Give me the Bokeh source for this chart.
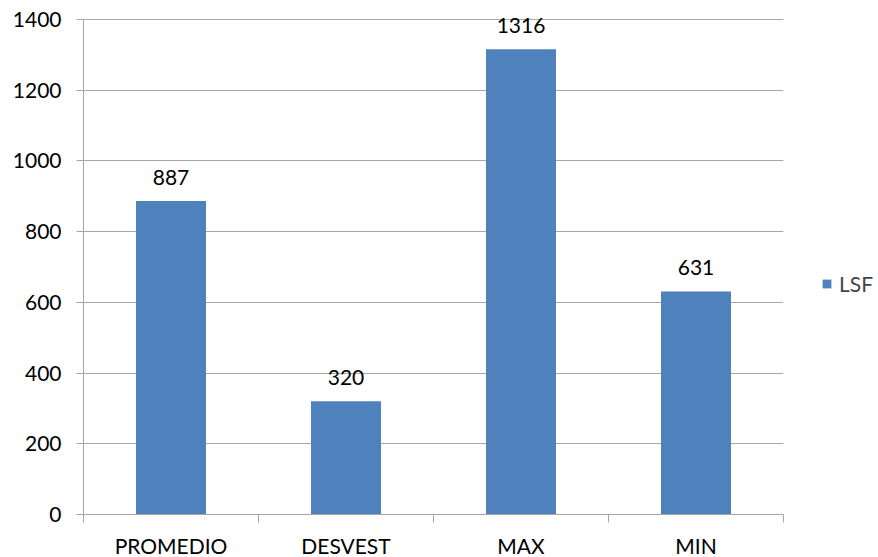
from bokeh.plotting import figure
from bokeh.models import ColumnDataSource, FixedTicker, Range1d, Legend, LegendItem, LabelSet
from bokeh.core.properties import value
from bokeh.embed import file_html
from bokeh.resources import INLINE

categories = ["PROMEDIO", "DESVEST", "MAX", "MIN"]
values = [887, 320, 1316, 631]
series_name = "LSF"
y_ticks = [0, 200, 400, 600, 800, 1000, 1200, 1400]

FONT = "Lato"
FS = "21px"
BAR = "#4F81BD"
GRID = "#A6A6A6"

# frame extends 14px above the top gridline so the tallest data label is not clipped
Y_MAX = y_ticks[-1]
PLOT_H = 495
EXTRA = 14
y_end = Y_MAX * (PLOT_H + EXTRA) / PLOT_H

xs = [i + 0.5 for i in range(len(categories))]
src = ColumnDataSource(dict(x=xs, top=values, label=[str(v) for v in values]))

p = figure(frame_width=700, frame_height=PLOT_H + EXTRA, output_backend="svg", toolbar_location=None,
           x_range=Range1d(0, len(categories)), y_range=Range1d(0, y_end),
           min_border_left=83, min_border_right=95, min_border_top=19 - EXTRA, min_border_bottom=43)
p.outline_line_color = None
p.background_fill_color = "white"
p.border_fill_color = "white"

r = p.vbar(x="x", top="top", width=0.4, bottom=0, source=src, fill_color=BAR, line_color=None)

labels = LabelSet(x="x", y="top", text="label", source=src, text_align="center",
                  text_baseline="bottom", y_offset=16, text_font=value(FONT),
                  text_font_size=value(FS), text_color="#000000")
p.add_layout(labels)

# x axis
p.xaxis.ticker = FixedTicker(ticks=xs, minor_ticks=list(range(len(categories) + 1)))
p.xaxis.major_label_overrides = {x: c for x, c in zip(xs, categories)}
p.xaxis.major_tick_out = 0
p.xaxis.major_tick_in = 0
p.xaxis.minor_tick_out = 8
p.xaxis.minor_tick_in = 0
p.xaxis.minor_tick_line_color = GRID
p.xaxis.axis_line_color = GRID
p.xaxis.major_label_standoff = 10
p.xaxis.major_label_text_font = FONT
p.xaxis.major_label_text_font_size = FS
p.xaxis.major_label_text_color = "#000000"
p.xgrid.grid_line_color = None

# y axis
p.yaxis.ticker = FixedTicker(ticks=y_ticks)
p.yaxis.bounds = (0, Y_MAX)
p.yaxis.major_tick_out = 7
p.yaxis.major_tick_in = 0
p.yaxis.minor_tick_line_color = None
p.yaxis.major_tick_line_color = GRID
p.yaxis.axis_line_color = GRID
p.yaxis.major_label_standoff = 15
p.yaxis.major_label_text_font = FONT
p.yaxis.major_label_text_font_size = FS
p.yaxis.major_label_text_color = "#000000"
p.ygrid.grid_line_color = GRID
p.ygrid.ticker = FixedTicker(ticks=y_ticks)

legend = Legend(items=[LegendItem(label=series_name, renderers=[r])],
                location=(38, 218), border_line_color=None, background_fill_alpha=0,
                label_text_font=FONT, label_text_font_size=FS, glyph_width=11,
                glyph_height=11, padding=0, margin=0, label_standoff=7)
p.add_layout(legend, "right")

open("out.html", "w").write(file_html(p, INLINE))
